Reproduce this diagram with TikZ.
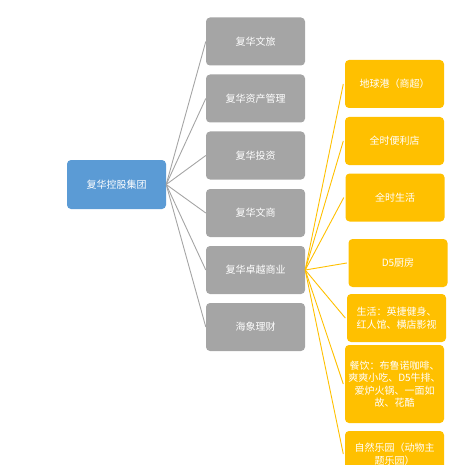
\documentclass[tikz,border=0pt]{standalone}
\usepackage{fontspec}
\setmainfont{Noto Sans CJK SC}
\definecolor{rootblue}{HTML}{5B9BD5}
\definecolor{boxgray}{HTML}{A5A5A5}
\definecolor{boxorange}{HTML}{FFC000}
\begin{document}
\begin{tikzpicture}[x=1pt,y=-1pt,
  basebox/.style={rectangle,rounded corners=4pt,inner sep=0pt,text=white,
    align=center,font=\fontsize{10}{12.5}\selectfont,minimum width=99pt,minimum height=48pt},
  rootbox/.style={basebox,fill=rootblue,minimum height=49pt},
  graybox/.style={basebox,fill=boxgray},
  orangebox/.style={basebox,fill=boxorange},
  grayline/.style={draw=boxgray,line width=0.9pt},
  orangeline/.style={draw=boxorange,line width=0.9pt}]
\useasboundingbox (0,0) rectangle (449,465);
\clip (0,0) rectangle (449,465);
\node[rootbox] (root) at (116.5,184.5) {复华控股集团};
\node[graybox] (g1) at (255.5,41.5) {复华文旅};
\node[graybox] (g2) at (255.5,98.5) {复华资产管理};
\node[graybox] (g3) at (255.5,155.5) {复华投资};
\node[graybox] (g4) at (255.5,213) {复华文商};
\node[graybox] (g5) at (255.5,270) {复华卓越商业};
\node[graybox] (g6) at (255.5,327) {海象理财};
\node[orangebox] (o1) at (394.5,84) {地球港（商超）};
\node[orangebox] (o2) at (394.5,141) {全时便利店};
\node[orangebox] (o3) at (395,197.5) {全时生活};
\node[orangebox] (o4) at (398,263) {D5厨房};
\node[orangebox] (o5) at (396.5,318) {生活：英捷健身、\\红人馆、横店影视};
\node[orangebox,minimum height=78pt] (o6) at (394.5,384) {餐饮：布鲁诺咖啡、\\爽爽小吃、D5牛排、\\爱炉火锅、一面如\\故、花酷};
\node[orangebox,minimum height=46pt] (o7) at (394.5,454) {自然乐园（动物主\\题乐园）};
\foreach \g in {g1,g2,g3,g4,g5,g6}
  \draw[grayline] (root.east) -- (\g.west);
\foreach \o in {o1,o2,o3,o4,o5,o6,o7}
  \draw[orangeline] (g5.east) -- ([xshift=-1.5pt]\o.west);
\end{tikzpicture}
\end{document}
